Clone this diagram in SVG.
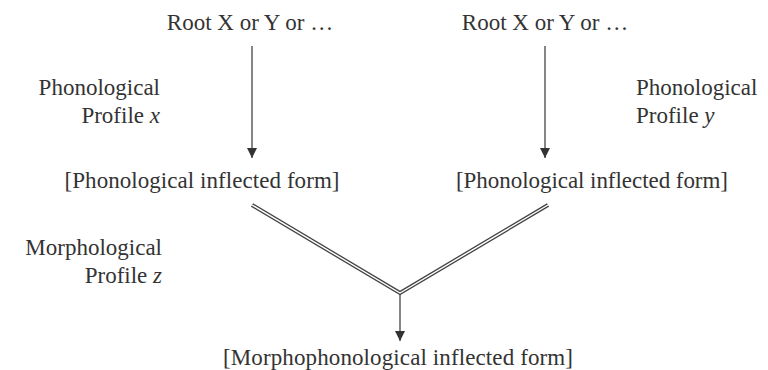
<svg xmlns="http://www.w3.org/2000/svg" width="768" height="370" viewBox="0 0 768 370">
<style>
text{font-family:"Liberation Serif","Times New Roman",serif;font-size:23px;fill:#333}
.m{text-anchor:middle}.e{text-anchor:end}
.i{font-style:italic}
.ln{stroke:#444;stroke-width:1.3;fill:none}
.dbo{stroke:#444;stroke-width:4;fill:none}
.dbi{stroke:#fff;stroke-width:1.4;fill:none}
</style>
<defs>
<marker id="ah" viewBox="0 0 10 10" refX="10" refY="5" markerWidth="14" markerHeight="10" markerUnits="userSpaceOnUse" orient="auto">
<path d="M0,0 L10,5 L0,10 Z" fill="#333"/>
</marker>
</defs>
<rect width="768" height="370" fill="#fff"/>
<g id="root-left"><text class="m" x="250" y="30">Root X or Y or …</text></g>
<g id="root-right"><text class="m" x="545" y="30">Root X or Y or …</text></g>
<g id="profile-x"><text class="e" x="160" y="95">Phonological</text><text class="e" x="160" y="123">Profile <tspan class="i">x</tspan></text></g>
<g id="profile-y"><text x="636" y="95">Phonological</text><text x="636" y="123">Profile <tspan class="i">y</tspan></text></g>
<g id="phon-left"><text class="m" x="202" y="188" textLength="275">[Phonological inflected form]</text></g>
<g id="phon-right"><text class="m" x="592" y="188" textLength="272">[Phonological inflected form]</text></g>
<g id="profile-z"><text class="e" x="162" y="255">Morphological</text><text class="e" x="162" y="283">Profile <tspan class="i">z</tspan></text></g>
<g id="morph"><text class="m" x="398" y="365" textLength="350">[Morphophonological inflected form]</text></g>
<g id="connectors">
<line class="ln" x1="252" y1="46" x2="252" y2="158" marker-end="url(#ah)"/>
<line class="ln" x1="545" y1="46" x2="545" y2="158" marker-end="url(#ah)"/>
<path class="dbo" d="M252,205 L400,293 L548,205"/>
<path class="dbi" d="M252,205 L400,293 L548,205"/>
<line class="ln" x1="400" y1="294" x2="400" y2="341" marker-end="url(#ah)"/>
</g>
</svg>
